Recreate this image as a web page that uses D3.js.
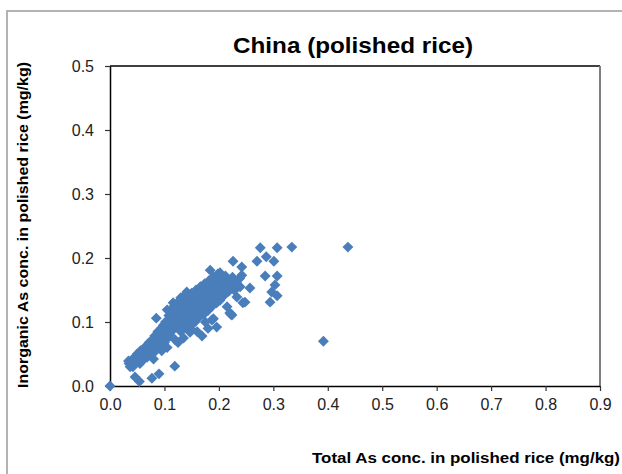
<!DOCTYPE html>
<html>
<head>
<meta charset="utf-8">
<script src="https://cdn.jsdelivr.net/npm/d3@7"></script>
<style>
  body { margin: 0; background: #fff; }
  svg { display: block; font-family: "Liberation Sans", Arial, sans-serif; }
</style>
</head>
<body>
<div id="chart"></div>
<script>
const xTicks = [0, 0.1, 0.2, 0.3, 0.4, 0.5, 0.6, 0.7, 0.8, 0.9];
const yTicks = [0, 0.1, 0.2, 0.3, 0.4, 0.5];

// total As (x) and inorganic As (y), mg/kg
const totalAs = [
  0.0, 0.276, 0.307, 0.334, 0.437, 0.392, 0.287, 0.270, 0.301, 0.226,
  0.242, 0.285, 0.307, 0.303, 0.257, 0.297, 0.307, 0.294, 0.244, 0.222,
  0.196, 0.085, 0.119, 0.090, 0.077, 0.054, 0.046, 0.037, 0.034,
  0.035, 0.040, 0.042, 0.045, 0.048, 0.050, 0.052, 0.055, 0.056, 0.058,
  0.060, 0.062, 0.064, 0.066, 0.068, 0.070, 0.072, 0.074, 0.076, 0.078,
  0.080, 0.082, 0.084, 0.080,
  0.086, 0.088, 0.090, 0.092, 0.094, 0.096, 0.098, 0.100, 0.100, 0.102,
  0.104, 0.106, 0.108, 0.110, 0.110, 0.112, 0.114, 0.116, 0.118, 0.120,
  0.120, 0.122, 0.124, 0.126, 0.128, 0.130, 0.130, 0.132, 0.134, 0.136,
  0.138, 0.140, 0.140, 0.142, 0.144, 0.146, 0.148, 0.150, 0.150,
  0.152, 0.154, 0.156, 0.158, 0.160, 0.162, 0.164, 0.166, 0.168, 0.170,
  0.172, 0.174, 0.176, 0.178, 0.180, 0.182, 0.184, 0.186, 0.188, 0.190,
  0.190, 0.192, 0.194, 0.196, 0.198, 0.200, 0.202, 0.204, 0.206, 0.208,
  0.210, 0.212, 0.215, 0.218, 0.220, 0.222, 0.225, 0.228, 0.232, 0.235,
  0.238, 0.184, 0.202, 0.141, 0.116, 0.105, 0.187, 0.202, 0.211, 0.224,
  0.248, 0.242,
  0.169, 0.160, 0.147, 0.135, 0.125, 0.105, 0.095, 0.180, 0.175,
  0.220, 0.215, 0.233, 0.239,
  0.090, 0.092, 0.097, 0.097, 0.103, 0.103, 0.107, 0.107, 0.113, 0.113,
  0.117, 0.117, 0.123, 0.123, 0.127, 0.127, 0.133, 0.133, 0.137, 0.137,
  0.143, 0.143, 0.147, 0.147, 0.153, 0.153, 0.157, 0.157, 0.163, 0.163,
  0.167, 0.167, 0.173, 0.173, 0.177, 0.177, 0.183, 0.183, 0.187, 0.187,
  0.193, 0.193, 0.197, 0.197, 0.203, 0.203, 0.207, 0.207, 0.213, 0.213,
  0.070, 0.070, 0.075, 0.075, 0.065, 0.065, 0.060, 0.083, 0.083
];
const inorganicAs = [
  0.0, 0.216, 0.216, 0.217, 0.217, 0.070, 0.202, 0.195, 0.195, 0.195,
  0.186, 0.172, 0.172, 0.158, 0.153, 0.147, 0.141, 0.131, 0.130, 0.112,
  0.092, 0.106, 0.031, 0.019, 0.012, 0.007, 0.014, 0.030, 0.039,
  0.035, 0.040, 0.030, 0.045, 0.038, 0.050, 0.042, 0.035, 0.055, 0.048,
  0.040, 0.058, 0.050, 0.062, 0.045, 0.055, 0.068, 0.060, 0.050, 0.072,
  0.063, 0.078, 0.055, 0.042,
  0.070, 0.085, 0.062, 0.078, 0.090, 0.072, 0.095, 0.082, 0.068, 0.100,
  0.088, 0.075, 0.110, 0.095, 0.080, 0.118, 0.102, 0.088, 0.125, 0.110,
  0.072, 0.095, 0.130, 0.115, 0.100, 0.085, 0.138, 0.122, 0.108, 0.090,
  0.142, 0.128, 0.112, 0.098, 0.135, 0.118, 0.105, 0.145, 0.088,
  0.130, 0.115, 0.100, 0.150, 0.138, 0.122, 0.108, 0.155, 0.142, 0.128,
  0.112, 0.160, 0.148, 0.135, 0.118, 0.165, 0.152, 0.140, 0.125, 0.170,
  0.105, 0.158, 0.145, 0.130, 0.175, 0.162, 0.150, 0.138, 0.168, 0.155,
  0.142, 0.172, 0.160, 0.148, 0.165, 0.155, 0.170, 0.150, 0.162, 0.155,
  0.168, 0.181, 0.177, 0.147, 0.130, 0.119, 0.103, 0.134, 0.145, 0.111,
  0.131, 0.173,
  0.078, 0.085, 0.084, 0.075, 0.068, 0.060, 0.055, 0.090, 0.100,
  0.114, 0.124, 0.139, 0.155,
  0.075, 0.066, 0.082, 0.088, 0.078, 0.093, 0.085, 0.102, 0.090, 0.110,
  0.097, 0.115, 0.102, 0.120, 0.092, 0.108, 0.115, 0.130, 0.100, 0.118,
  0.108, 0.125, 0.095, 0.130, 0.122, 0.140, 0.108, 0.128, 0.115, 0.145,
  0.120, 0.135, 0.138, 0.120, 0.128, 0.155, 0.130, 0.145, 0.148, 0.160,
  0.135, 0.165, 0.140, 0.155, 0.145, 0.160, 0.150, 0.163, 0.150, 0.165,
  0.062, 0.050, 0.065, 0.058, 0.055, 0.048, 0.052, 0.068, 0.062
];

const width = 622, height = 474;
const margin = { top: 66, right: 22, bottom: 88, left: 110 };
const plotW = width - margin.left - margin.right;
const plotH = height - margin.top - margin.bottom;

const svg = d3.select('#chart').append('svg')
  .attr('width', width)
  .attr('height', height);

svg.append('rect')
  .attr('width', width).attr('height', height)
  .attr('fill', '#fff');

// outer chart frame (right and bottom run off the picture)
svg.append('path')
  .attr('d', `M7,${height + 5}V11H${width + 5}`)
  .attr('fill', 'none')
  .attr('stroke', '#b3b3b3')
  .attr('stroke-width', 2);

const g = svg.append('g')
  .attr('transform', `translate(${margin.left},${margin.top})`);

const x = d3.scaleLinear().domain([0, 0.9]).range([0, plotW]);
const y = d3.scaleLinear().domain([0, 0.5]).range([plotH, 0]);

// plot area border
g.append('path')
  .attr('d', `M0,0H${plotW}`)
  .attr('stroke', '#000').attr('stroke-width', 1.5);
g.append('path')
  .attr('d', `M${plotW},0V${plotH}`)
  .attr('stroke', '#7f7f7f').attr('stroke-width', 2);

const xAxis = g.append('g')
  .attr('transform', `translate(0,${plotH})`)
  .call(d3.axisBottom(x).tickValues(xTicks).tickFormat(d3.format('.1f')).tickSize(5).tickPadding(8).tickSizeOuter(0));
const yAxis = g.append('g')
  .call(d3.axisLeft(y).tickValues(yTicks).tickFormat(d3.format('.1f')).tickSize(5).tickPadding(11).tickSizeOuter(0));

[xAxis, yAxis].forEach(ax => {
  ax.select('.domain').attr('stroke', '#000').attr('stroke-width', 1.5);
  ax.selectAll('.tick line').attr('stroke', '#333').attr('stroke-width', 1.2);
  ax.selectAll('text')
    .attr('font-family', '"Liberation Sans", Arial, sans-serif')
    .attr('font-size', 16)
    .attr('fill', '#222');
});

const points = totalAs.map((v, i) => ({ x: v, y: inorganicAs[i] }));
const diamond = d3.symbol().type(d3.symbolDiamond2).size(76);

g.selectAll('.pt')
  .data(points)
  .enter().append('path')
  .attr('class', 'pt')
  .attr('d', diamond)
  .attr('transform', d => `translate(${x(d.x)},${y(d.y)})`)
  .attr('fill', '#4a7ebb');

svg.append('text')
  .attr('x', 353).attr('y', 53)
  .attr('text-anchor', 'middle')
  .attr('font-size', 22).attr('font-weight', 'bold')
  .attr('textLength', 240).attr('lengthAdjust', 'spacingAndGlyphs')
  .text('China (polished rice)');

svg.append('text')
  .attr('x', 620).attr('y', 463)
  .attr('text-anchor', 'end')
  .attr('font-size', 14).attr('font-weight', 'bold')
  .attr('textLength', 308).attr('lengthAdjust', 'spacingAndGlyphs')
  .text('Total As conc. in polished rice (mg/kg)');

svg.append('text')
  .attr('transform', 'translate(28,225) rotate(-90)')
  .attr('text-anchor', 'middle')
  .attr('font-size', 14).attr('font-weight', 'bold')
  .attr('textLength', 326).attr('lengthAdjust', 'spacingAndGlyphs')
  .text('Inorganic As conc. in polished rice (mg/kg)');
</script>
</body>
</html>
